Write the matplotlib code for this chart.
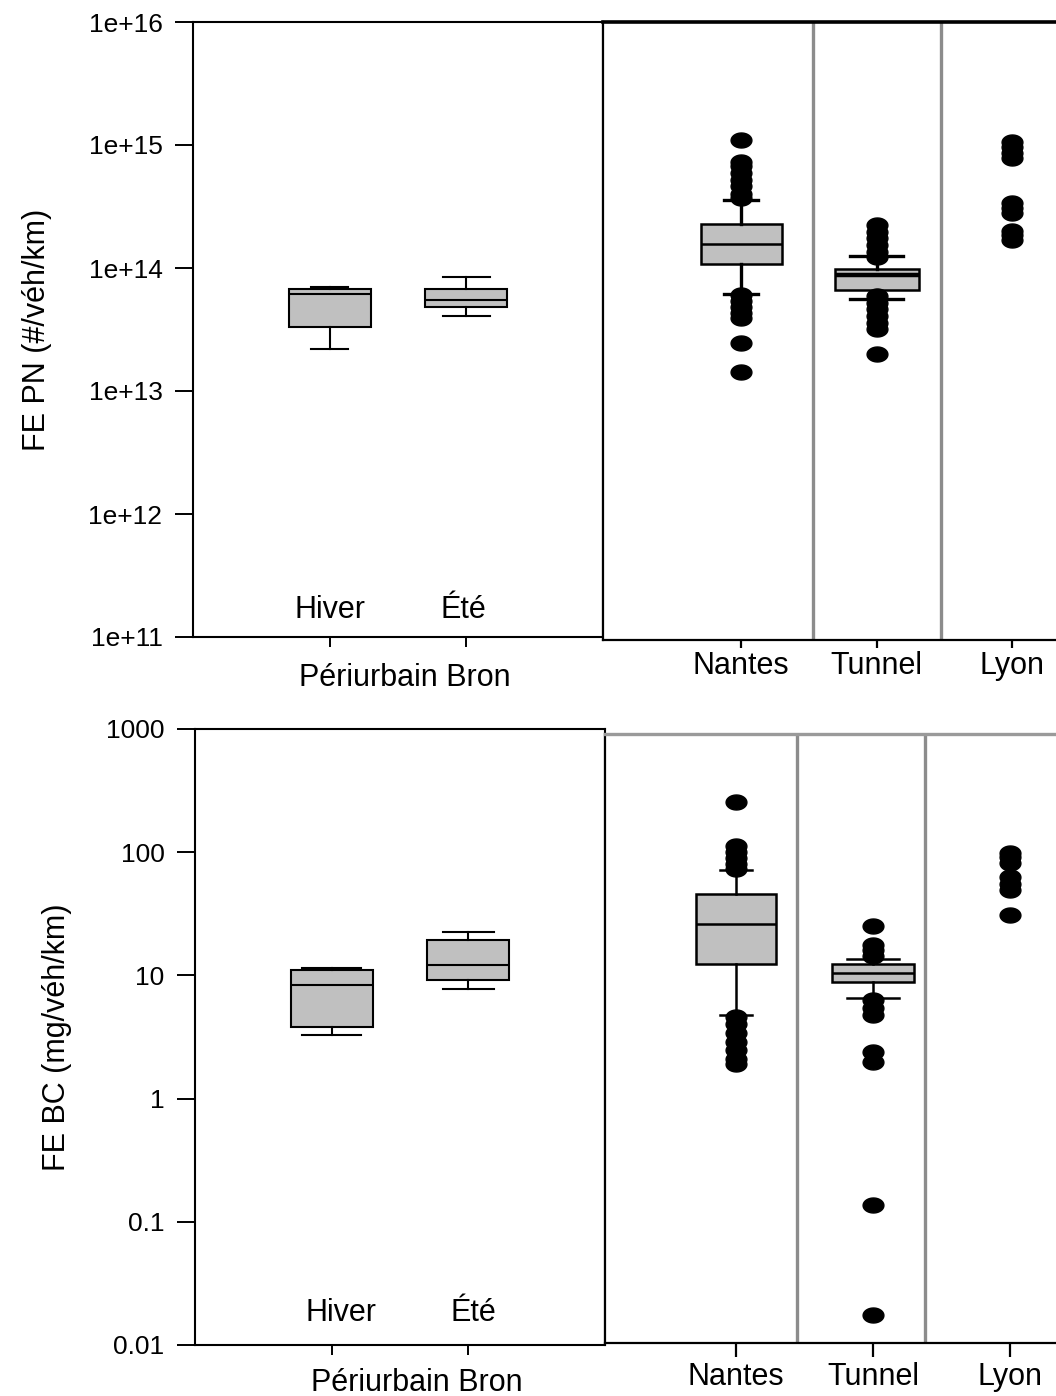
import numpy as np
import matplotlib
matplotlib.use('Agg')
import matplotlib.pyplot as plt
from matplotlib.path import Path

plt.rcParams['font.family'] = ['Liberation Sans', 'DejaVu Sans']

# ---------------- data ----------------
saisons = ['Hiver', 'Été']
sites = ['Nantes', 'Tunnel', 'Lyon']

# FE PN (#/véh/km) - Périurbain Bron
pn_bron_whislo = [2.2e13, 4.1e13]
pn_bron_q1 = [3.34e13, 4.8e13]
pn_bron_med = [6.1e13, 5.5e13]
pn_bron_q3 = [6.8e13, 6.8e13]
pn_bron_whishi = [7.0e13, 8.4e13]

# FE PN - Nantes / Tunnel boxes
pn_site_whislo = [6.2e13, 5.6e13]
pn_site_q1 = [1.07e14, 6.6e13]
pn_site_med = [1.56e14, 8.8e13]
pn_site_q3 = [2.28e14, 9.8e13]
pn_site_whishi = [3.6e14, 1.26e14]
pn_nantes_fliers = [1.1e15, 7.3e14, 6.7e14, 5.9e14, 5.2e14, 4.6e14, 4.0e14, 3.7e14,
                    6.0e13, 5.4e13, 4.8e13, 4.3e13, 3.9e13, 2.47e13, 1.44e13]
pn_tunnel_fliers = [2.24e14, 1.97e14, 1.74e14, 1.54e14, 1.36e14, 1.23e14,
                    5.9e13, 5.2e13, 4.6e13, 4.1e13, 3.6e13, 3.2e13, 2.0e13]
pn_lyon = [1.05e15, 9.6e14, 8.6e14, 7.8e14, 3.4e14, 3.1e14, 2.8e14, 2.0e14, 1.85e14, 1.7e14]

pn_ticks = [1e11, 1e12, 1e13, 1e14, 1e15, 1e16]
pn_ticklabels = ['1e+11', '1e+12', '1e+13', '1e+14', '1e+15', '1e+16']

# FE BC (mg/véh/km) - Périurbain Bron
bc_bron_whislo = [3.3, 7.7]
bc_bron_q1 = [3.8, 9.2]
bc_bron_med = [8.3, 12.2]
bc_bron_q3 = [11.0, 19.4]
bc_bron_whishi = [11.4, 22.5]

# FE BC - Nantes / Tunnel boxes
bc_site_whislo = [4.8, 6.5]
bc_site_q1 = [12.3, 8.9]
bc_site_med = [26.0, 10.4]
bc_site_q3 = [45.5, 12.3]
bc_site_whishi = [72.0, 13.5]
bc_nantes_fliers = [254, 112, 100, 90, 80, 73, 4.6, 4.0, 3.4, 2.9, 2.5, 2.1, 1.9]
bc_tunnel_fliers = [25.2, 17.5, 16.0, 14.5, 6.3, 5.4, 4.8, 2.4, 2.0, 0.137, 0.0175]
bc_lyon = [98, 92, 81, 63, 55, 49, 31]

bc_ticks = [0.01, 0.1, 1, 10, 100, 1000]
bc_ticklabels = ['0.01', '0.1', '1', '10', '100', '1000']

# ---------------- helpers ----------------
t = np.linspace(0, 2 * np.pi, 41)
blob = Path(np.column_stack([np.cos(t), 0.72 * np.sin(t)]), closed=True)
GREY_BOX = '#c0c0c0'
DIV = '#8c8c8c'


def make_stats(lo, q1, med, q3, hi, fliers=None):
    out = []
    for i in range(len(lo)):
        out.append(dict(whislo=lo[i], q1=q1[i], med=med[i], q3=q3[i], whishi=hi[i],
                        fliers=fliers[i] if fliers else []))
    return out


def draw_boxes(ax, stats, pos, widths, capwidths, lw=1.5, wlw=1.5):
    res = ax.bxp(stats, positions=pos, widths=widths, capwidths=capwidths,
                 patch_artist=True, manage_ticks=False,
                 boxprops=dict(facecolor=GREY_BOX, edgecolor='black', linewidth=lw),
                 medianprops=dict(color='black', linewidth=lw),
                 whiskerprops=dict(color='black', linewidth=wlw),
                 capprops=dict(color='black', linewidth=wlw),
                 flierprops=dict(marker=blob, markersize=15, markerfacecolor='black',
                                 markeredgecolor='black', linestyle='none'))
    return res


def style_left(ax, ticks, labels, ylabel, ylab_x, xlab_x, xlab_y, txt_y, txt_x):
    ax.set_yscale('log')
    ax.set_ylim(ticks[0], ticks[-1])
    ax.set_xlim(0, 3)
    ax.set_yticks(ticks)
    ax.set_yticklabels(labels)
    ax.minorticks_off()
    ax.set_xticks([1, 2])
    ax.set_xticklabels([])
    ax.tick_params(axis='y', direction='out', length=13, width=1.4, labelsize=19, pad=9)
    ax.tick_params(axis='x', direction='out', length=7, width=1.4)
    for s in ax.spines.values():
        s.set_linewidth(1.5)
    ax.set_ylabel(ylabel, fontsize=22)
    ax.yaxis.set_label_coords(ylab_x, 0.5)
    ax.text(xlab_x, xlab_y, 'Périurbain Bron', transform=ax.transAxes,
            ha='center', va='center', fontsize=22)
    for i, s in enumerate(saisons):
        ax.text(txt_x[i], txt_y, s, transform=ax.get_xaxis_transform(),
                ha='center', va='center', fontsize=22)


def style_right(ax, ylim, xlim, dividers, top_color, top_lw, tlen, tpad):
    ax.set_yscale('log')
    ax.set_ylim(*ylim)
    ax.set_xlim(*xlim)
    ax.set_yticks([])
    ax.minorticks_off()
    ax.set_xticks([1, 2, 3])
    ax.set_xticklabels(sites)
    ax.tick_params(axis='x', direction='out', length=tlen, width=1.6, labelsize=22, pad=tpad)
    ax.tick_params(axis='y', which='both', left=False, labelleft=False)
    ax.spines['right'].set_visible(False)
    ax.spines['left'].set_linewidth(1.6)
    ax.spines['bottom'].set_linewidth(1.6)
    ax.spines['top'].set_color(top_color)
    ax.spines['top'].set_linewidth(top_lw)
    for d in dividers:
        ax.axvline(d, color=DIV, linewidth=2.4)


W, H = 1056, 1396
fig = plt.figure(figsize=(W / 100, H / 100), dpi=100)

ax_tl = fig.add_axes([193 / W, 1 - 637 / H, 410 / W, 615 / H])
ax_tr = fig.add_axes([603 / W, 1 - 640 / H, 477 / W, 618 / H])
ax_bl = fig.add_axes([195 / W, 1 - 1345 / H, 410 / W, 616 / H])
ax_br = fig.add_axes([605 / W, 1 - 1343 / H, 475 / W, 609 / H])

# ---------------- top: FE PN ----------------
draw_boxes(ax_tl, make_stats(pn_bron_whislo, pn_bron_q1, pn_bron_med, pn_bron_q3, pn_bron_whishi),
           [1, 2], [0.6, 0.6], [0.27, 0.34])
style_left(ax_tl, pn_ticks, pn_ticklabels, 'FE PN (#/véh/km)', -0.344, 0.516, -0.067, 0.044,
           [1, 1.98])

res = draw_boxes(ax_tr, make_stats(pn_site_whislo, pn_site_q1, pn_site_med, pn_site_q3, pn_site_whishi,
                                   [pn_nantes_fliers, pn_tunnel_fliers]),
                 [1, 2], [0.6, 0.62], [0.25, 0.39], lw=1.8, wlw=2.4)
res['medians'][1].set_linewidth(3.2)
ax_tr.plot([3] * len(pn_lyon), pn_lyon, linestyle='none', marker=blob, markersize=15,
           color='black')
style_right(ax_tr, (1e11 / 10 ** (3 / 123), 1e16), (-0.02, 3.5), [1.53, 2.475],
            'black', 2.6, 6, 2)

# ---------------- bottom: FE BC ----------------
draw_boxes(ax_bl, make_stats(bc_bron_whislo, bc_bron_q1, bc_bron_med, bc_bron_q3, bc_bron_whishi),
           [1, 2], [0.6, 0.6], [0.43, 0.37])
style_left(ax_bl, bc_ticks, bc_ticklabels, 'FE BC (mg/véh/km)', -0.30, 0.541, -0.062, 0.052,
           [1.07, 2.04])

res = draw_boxes(ax_br, make_stats(bc_site_whislo, bc_site_q1, bc_site_med, bc_site_q3, bc_site_whishi,
                                   [bc_nantes_fliers, bc_tunnel_fliers]),
                 [1, 2], [0.59, 0.6], [0.24, 0.38], lw=1.8, wlw=1.8)
ax_br.plot([3] * len(bc_lyon), bc_lyon, linestyle='none', marker=blob, markersize=15,
           color='black')
style_right(ax_br, (10 ** (-2 + 2 / 123.2), 10 ** (3 - 5 / 123.2)), (0.044, 3.51), [1.445, 2.38],
            '#9a9a9a', 2.4, 10, 4)

fig.savefig('out.png', dpi=100)
